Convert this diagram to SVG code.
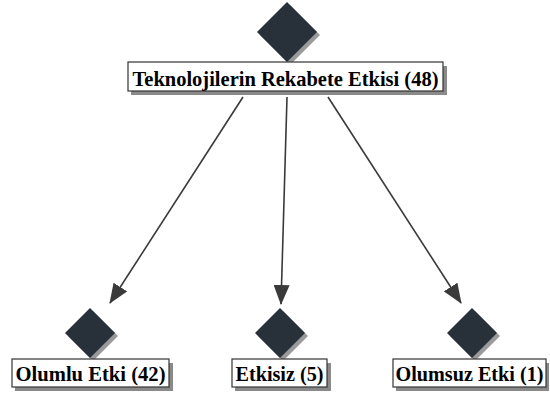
<svg xmlns="http://www.w3.org/2000/svg" width="550" height="398" viewBox="0 0 550 398">
<style>
.dia{fill:#283039}
.sh{fill:#9a9a9a}
.box{fill:#fff;stroke:#333;stroke-width:1.2}
.bsh{fill:#8a8a8a}
.lbl{font-family:"Liberation Serif","Times New Roman",serif;font-weight:bold;font-size:22px;fill:#000;text-anchor:middle}
.edge{stroke:#3a3a3a;stroke-width:1.6;fill:none}
</style>
<defs>
<marker id="ah" markerWidth="20" markerHeight="16" refX="19" refY="8" orient="auto" markerUnits="userSpaceOnUse">
<path d="M0,0 L20,8 L0,16 z" fill="#3a3a3a"/>
</marker>
</defs>
<g id="edges">
<line class="edge" x1="243" y1="97" x2="110" y2="303" marker-end="url(#ah)"/>
<line class="edge" x1="287" y1="97" x2="281" y2="304" marker-end="url(#ah)"/>
<line class="edge" x1="328" y1="97" x2="461" y2="303" marker-end="url(#ah)"/>
</g>
<g id="root">
<path class="sh" d="M290,5 L320,35 L290,65 L260,35 z"/>
<path class="dia" d="M287,2 L317,32 L287,62 L257,32 z"/>
<rect class="bsh" x="131" y="66" width="316" height="29"/>
<rect class="box" x="128" y="62" width="315" height="29"/>
<text class="lbl" x="285.5" y="86" textLength="306" lengthAdjust="spacingAndGlyphs">Teknolojilerin Rekabete Etkisi (48)</text>
</g>
<g id="olumlu">
<path class="sh" d="M93,311 L118,336 L93,361 L68,336 z"/>
<path class="dia" d="M90,308 L115,333 L90,358 L65,333 z"/>
<rect class="bsh" x="15" y="363" width="158" height="28"/>
<rect class="box" x="12" y="359" width="157" height="28"/>
<text class="lbl" x="90.5" y="381" textLength="150" lengthAdjust="spacingAndGlyphs">Olumlu Etki (42)</text>
</g>
<g id="etkisiz">
<path class="sh" d="M283,311 L308,336 L283,361 L258,336 z"/>
<path class="dia" d="M280,308 L305,333 L280,358 L255,333 z"/>
<rect class="bsh" x="235" y="363" width="96" height="28"/>
<rect class="box" x="232" y="359" width="95" height="28"/>
<text class="lbl" x="279.5" y="381" textLength="88" lengthAdjust="spacingAndGlyphs">Etkisiz (5)</text>
</g>
<g id="olumsuz">
<path class="sh" d="M475,311 L500,336 L475,361 L450,336 z"/>
<path class="dia" d="M472,308 L497,333 L472,358 L447,333 z"/>
<rect class="bsh" x="396" y="363" width="153" height="28"/>
<rect class="box" x="393" y="359" width="153" height="28"/>
<text class="lbl" x="469.5" y="381" style="font-size:20.5px" textLength="148" lengthAdjust="spacingAndGlyphs">Olumsuz Etki (1)</text>
</g>
</svg>
